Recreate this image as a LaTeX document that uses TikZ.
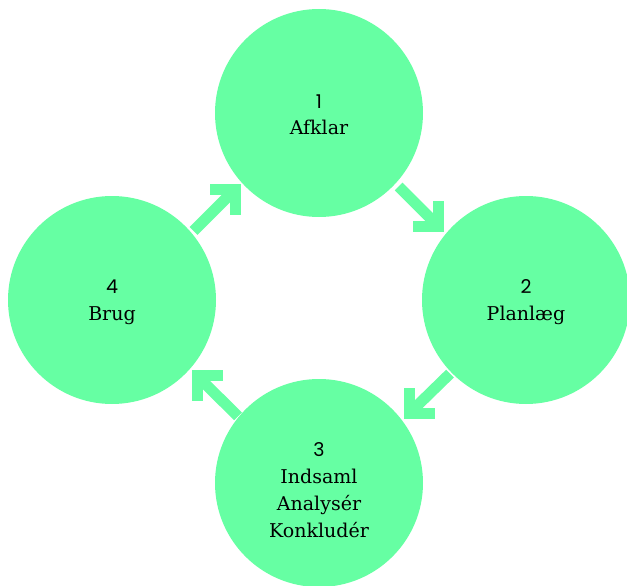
\documentclass[tikz,border=0pt]{standalone}
\usepackage{fontspec}
\usetikzlibrary{calc}
\setmainfont{DejaVu Serif}
\newfontfamily\numfont{Poppins}
\definecolor{mint}{HTML}{66FFA3}
\begin{document}
\begin{tikzpicture}[x=1pt,y=-1pt,
  disc/.style={circle,fill=mint,minimum size=208pt,inner sep=0pt},
  lbl/.style={align=center,anchor=base,font=\fontsize{19}{27}\selectfont,inner sep=0pt},
  arrowbody/.style={draw=mint,line width=11pt,line cap=butt,line join=miter}]
\useasboundingbox (0,0) rectangle (627,586);
\node[disc] (c1) at (319,113) {};
\node[disc] (c2) at (526,300) {};
\node[disc] (c3) at (319,483) {};
\node[disc] (c4) at (112,300) {};
\node[lbl] (t1) at (319,135) {{\numfont 1}\\Afklar};
\node[lbl] (t2) at (526,320) {{\numfont 2}\\Planlæg};
\node[lbl] (t3) at (319,537) {{\numfont 3}\\Indsaml\\Analysér\\Konkludér};
\node[lbl] (t4) at (112,320) {{\numfont 4}\\Brug};
% arrow 4 -> 1
\coordinate (k41) at (235.5,189);
\coordinate (s41) at ($(k41)+(-42,42)$);
\draw[arrowbody] (s41) -- (k41);
\draw[arrowbody] ($(k41)+(-25.5,0)$) -- (k41) -- ($(k41)+(0,25.5)$);
% arrow 1 -> 2
\coordinate (k12) at (438.7,226.5);
\coordinate (s12) at ($(k12)+(-40,-40)$);
\draw[arrowbody] (s12) -- (k12);
\draw[arrowbody] ($(k12)+(-25.5,0)$) -- (k12) -- ($(k12)+(0,-25.5)$);
% arrow 2 -> 3
\coordinate (k23) at (409,413.6);
\coordinate (s23) at ($(k23)+(41,-40)$);
\draw[arrowbody] (s23) -- (k23);
\draw[arrowbody] ($(k23)+(25.5,0)$) -- (k23) -- ($(k23)+(0,-25.5)$);
% arrow 3 -> 4
\coordinate (k34) at (197,375.8);
\coordinate (s34) at ($(k34)+(41,40.5)$);
\draw[arrowbody] (s34) -- (k34);
\draw[arrowbody] ($(k34)+(25.5,0)$) -- (k34) -- ($(k34)+(0,25.5)$);
\end{tikzpicture}
\end{document}
